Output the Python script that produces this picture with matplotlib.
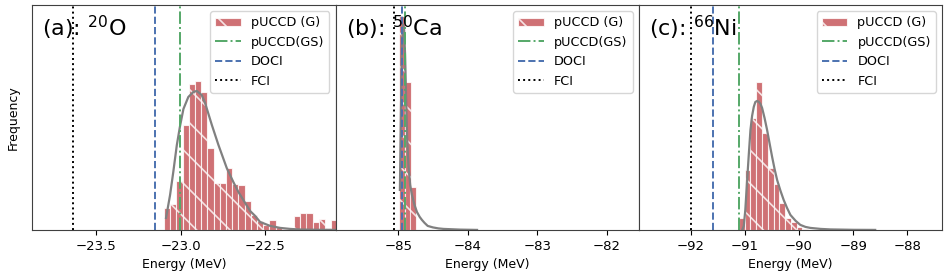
import matplotlib.pyplot as plt

# ---- (a) 20O ----
bins_a = [-23.079, -23.043, -23.006, -22.969, -22.933, -22.896, -22.859,
          -22.823, -22.786, -22.750, -22.713, -22.676, -22.640, -22.603,
          -22.566, -22.530, -22.493, -22.456, -22.420, -22.383, -22.347,
          -22.310, -22.273, -22.237, -22.200, -22.163, -22.127, -22.090]
freq_a = [22, 26, 49, 105, 146, 149, 138, 82, 47, 47, 62, 46, 45, 29,
          15, 9, 5, 10, 3, 1, 0, 14, 17, 17, 8, 11, 2, 10]
fit_x_a = [-23.086, -23.062, -23.043, -23.022, -23.003, -22.983, -22.954,
           -22.924, -22.904, -22.875, -22.855, -22.815, -22.776, -22.727,
           -22.688, -22.658, -22.618, -22.589, -22.559, -22.530, -22.470,
           -22.411, -22.352, -22.293, -22.175, -22.074]
fit_y_a = [12, 35, 58, 85, 104, 121, 133, 138, 139, 135, 127, 105, 85, 62,
           48, 38, 27, 19, 14, 8, 4, 2, 1, 0.4, 0.1, 0]
gs_a, doci_a, fci_a = -23.003, -23.151, -23.634

# ---- (b) 50Ca ----
bins_b = [-84.950, -84.865, -84.780]
freq_b = [214, 148, 43]
fit_x_b = [-84.975, -84.960, -84.945, -84.930, -84.915, -84.900, -84.885,
           -84.870, -84.851, -84.827, -84.802, -84.765, -84.730, -84.690,
           -84.658, -84.620, -84.575, -84.500, -84.420, -84.347, -84.106,
           -83.865]
fit_y_b = [40, 120, 185, 205, 200, 175, 130, 90, 63, 45, 35, 25, 18, 13,
           10, 7, 4, 2.5, 1.5, 1, 0.3, 0]
gs_b, doci_b, fci_b = -84.899, -84.947, -85.058

# ---- (c) 66Ni ----
bins_c = [-91.057, -90.950, -90.843, -90.736, -90.630, -90.523, -90.416,
          -90.309, -90.202, -90.096, -89.989, -89.882]
freq_c = [12, 60, 112, 148, 97, 62, 46, 27, 12, 8, 3, 1]
fit_x_c = [-91.045, -91.018, -90.990, -90.956, -90.925, -90.895, -90.865,
           -90.834, -90.805, -90.772, -90.740, -90.710, -90.680, -90.635,
           -90.588, -90.540, -90.495, -90.450, -90.403, -90.340, -90.282,
           -90.220, -90.158, -90.060, -89.974, -89.880, -89.790, -89.600,
           -89.422, -89.000, -88.593]
fit_y_c = [0, 4, 20, 50, 76, 100, 114, 123, 128, 129, 128, 126, 122, 112,
           100, 86, 73, 61, 50, 39, 30, 22, 15, 9, 5, 3, 2, 1, 0.5, 0.1, 0]
gs_c, doci_c, fci_c = -91.10, -91.58, -92.0

titles = ["(a): $^{20}$O", "(b): $^{50}$Ca", "(c): $^{66}$Ni"]

panels = [
    (bins_a, freq_a, 0.0366, fit_x_a, fit_y_a, gs_a, doci_a, fci_a, (-23.876, -22.082)),
    (bins_b, freq_b, 0.0851, fit_x_b, fit_y_b, gs_b, doci_b, fci_b, (-85.898, -81.535)),
    (bins_c, freq_c, 0.1068, fit_x_c, fit_y_c, gs_c, doci_c, fci_c, (-92.952, -87.355)),
]

plt.rcParams["font.size"] = 9.5
plt.rcParams["hatch.linewidth"] = 1.2
plt.rcParams["axes.edgecolor"] = "0.25"

fig, axes = plt.subplots(1, 3, figsize=(9.47, 2.77), dpi=100, sharey=True)
fig.subplots_adjust(left=0.0343, right=0.995, bottom=0.170, top=0.982, wspace=0)

for ax, title, (bx, by, bw, fx, fy, gs, doci, fci, xlim) in zip(axes, titles, panels):
    bars = ax.bar(bx, by, width=bw, color="#C44E52", alpha=0.8,
                  edgecolor="white", linewidth=0.8, hatch="\\")
    ax.plot(fx, fy, color="gray", linewidth=1.6)
    l_gs = ax.axvline(gs, color="#55A868", linestyle="-.", linewidth=1.4)
    l_doci = ax.axvline(doci, color="#4C72B0", linestyle="--", linewidth=1.4)
    l_fci = ax.axvline(fci, color="black", linestyle=":", linewidth=1.4)
    ax.legend([bars, l_gs, l_doci, l_fci],
              ["pUCCD (G)", "pUCCD(GS)", "DOCI", "FCI"],
              loc="upper right", fontsize=9.2)
    ax.text(0.033, 0.862, title, transform=ax.transAxes, fontsize=16,
            va="baseline", ha="left")
    ax.set_xlim(*xlim)
    ax.set_ylim(0, 225)
    ax.set_yticks([])
    ax.set_xlabel("Energy (MeV)", fontsize=9)

axes[0].set_ylabel("Frequency", fontsize=9, labelpad=9)

plt.savefig("out.png", dpi=100)
